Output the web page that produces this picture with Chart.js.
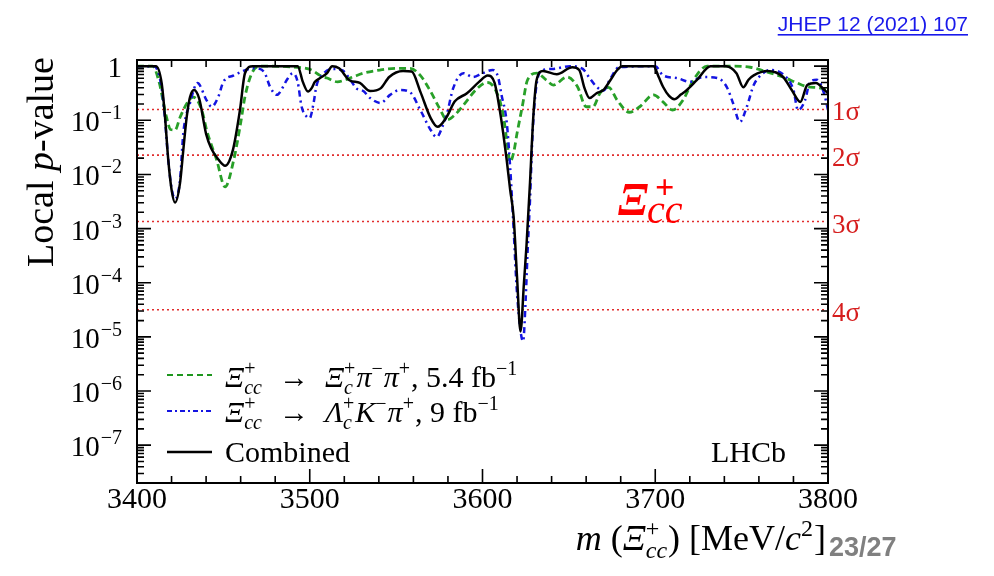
<!DOCTYPE html>
<html>
<head>
<meta charset="utf-8">
<script src="https://cdn.jsdelivr.net/npm/chart.js@4/dist/chart.umd.min.js"></script>
<style>
  html, body { margin: 0; padding: 0; background: #ffffff; }
  canvas { display: block; }
</style>
</head>
<body>
<canvas id="chart" width="994" height="576"></canvas>
<script>
// Local p-value scan versus Xi_cc+ mass
const massCombined = [3400, 3411, 3414.3, 3416.2, 3418.1, 3420, 3422, 3424.9, 3426.8, 3428.8,
  3430.7, 3433, 3436, 3440, 3443, 3447, 3451, 3455.5, 3459.6, 3462.5,
  3467, 3493, 3496, 3499, 3501, 3503, 3506, 3510, 3513, 3517,
  3523, 3529, 3535, 3541, 3546, 3554, 3559, 3564, 3570, 3574,
  3579, 3584, 3591, 3598, 3603, 3607, 3610, 3612, 3614, 3616,
  3618, 3620, 3622, 3624, 3625.5, 3627.5, 3629.4, 3631.3, 3635, 3643,
  3652, 3656, 3659, 3662, 3666, 3670, 3674, 3678, 3681, 3699,
  3702, 3704.5, 3708, 3711, 3715, 3718, 3724, 3732, 3741, 3747,
  3751, 3754, 3757, 3765, 3774, 3779, 3784, 3788, 3793, 3798, 3800];
const pCombined = [1, 1, 0.479, 0.117, 0.0186, 0.00525, 0.00302, 0.00692, 0.0282, 0.117,
  0.269, 0.363, 0.251, 0.0562, 0.0302, 0.0191, 0.0145, 0.0282, 0.155, 0.741,
  1, 1, 0.513, 0.339, 0.389, 0.513, 0.603, 0.741, 1, 0.912,
  0.550, 0.490, 0.347, 0.389, 0.631, 0.813, 0.794, 0.339, 0.110, 0.0759,
  0.112, 0.224, 0.316, 0.513, 0.676, 0.490, 0.155, 0.0575, 0.0186, 0.00525,
  0.00166, 1.26e-4, 1.26e-5, 1.0e-4, 5.0e-4, 0.00708, 0.115, 0.550, 0.813, 0.708,
  0.955, 0.851, 0.398, 0.257, 0.316, 0.363, 0.550, 0.851, 1, 1,
  0.631, 0.417, 0.282, 0.245, 0.302, 0.355, 0.550, 1, 1, 0.741,
  0.407, 0.562, 0.676, 0.813, 0.631, 0.363, 0.219, 0.447, 0.490, 0.363, 0.316];

const massPiPi = [3400, 3409, 3413, 3415, 3417, 3419.4, 3422, 3425, 3429, 3432.4,
  3435, 3438, 3440.3, 3446.1, 3451, 3456, 3460, 3462.5, 3466.4, 3471,
  3496, 3501, 3506, 3510, 3516, 3520, 3525, 3531, 3541, 3550,
  3558, 3564, 3570, 3575, 3579.5, 3584, 3589, 3597, 3602.6, 3608,
  3612, 3614, 3616, 3618, 3620, 3623, 3626, 3631.5, 3637, 3641,
  3649, 3655, 3660, 3664, 3668, 3673, 3678, 3685, 3691, 3699,
  3704.5, 3710, 3716, 3722, 3730, 3745, 3755, 3765, 3774, 3782,
  3788, 3795, 3800];
const pPiPi = [1, 1, 0.479, 0.234, 0.117, 0.0676, 0.0661, 0.115, 0.209, 0.269,
  0.234, 0.135, 0.0661, 0.0186, 0.00589, 0.0186, 0.0891, 0.272, 0.733, 1,
  0.933, 0.851, 0.676, 0.603, 0.513, 0.550, 0.631, 0.741, 0.851, 0.912,
  0.912, 0.676, 0.339, 0.170, 0.102, 0.126, 0.191, 0.389, 0.501, 0.339,
  0.126, 0.0437, 0.017, 0.0251, 0.0575, 0.178, 0.550, 0.741, 0.550, 0.447,
  0.631, 0.417, 0.178, 0.178, 0.316, 0.407, 0.234, 0.141, 0.178, 0.295,
  0.219, 0.155, 0.234, 0.550, 1, 1, 0.955, 0.776, 0.631, 0.490,
  0.417, 0.398, 0.355];

const massLcK = [3400, 3410, 3414, 3416, 3418, 3420, 3422, 3424.9, 3426.8, 3430.7,
  3435, 3440.3, 3443.2, 3447, 3450, 3456, 3460, 3467, 3471, 3474,
  3477, 3481, 3484.6, 3486.6, 3490.4, 3493, 3495.3, 3498.2, 3500, 3502,
  3504, 3507, 3513, 3519, 3523, 3527, 3531, 3535, 3541, 3546.5,
  3552, 3558, 3564, 3570, 3573.5, 3577, 3579.5, 3583, 3589, 3594.5,
  3600, 3606, 3609, 3611, 3614, 3616, 3618, 3620, 3623.5, 3625,
  3626, 3627.5, 3629, 3631.5, 3635, 3641, 3650.6, 3658, 3662, 3666,
  3670, 3674, 3679, 3700, 3704.5, 3712.6, 3720, 3727.6, 3736, 3741.5,
  3745, 3749, 3753, 3757, 3762.4, 3766, 3774, 3780, 3782.6, 3786.7,
  3789.6, 3793.6, 3797.7, 3800];
const pLcK = [1, 1, 0.447, 0.126, 0.0200, 0.00562, 0.00355, 0.00776, 0.0575, 0.209,
  0.490, 0.234, 0.178, 0.269, 0.513, 0.676, 0.776, 0.912, 0.891, 0.741,
  0.417, 0.295, 0.417, 0.550, 0.741, 0.513, 0.178, 0.117, 0.110, 0.191,
  0.447, 0.676, 0.891, 0.832, 0.589, 0.389, 0.347, 0.257, 0.209, 0.295,
  0.363, 0.331, 0.155, 0.0661, 0.049, 0.0794, 0.135, 0.389, 0.741, 0.631,
  0.741, 0.851, 0.631, 0.295, 0.0933, 0.0138, 0.001, 6.3e-5, 8.3e-6, 5.0e-5,
  3.16e-4, 0.00339, 0.0575, 0.501, 0.851, 0.891, 1, 0.891, 0.603, 0.417,
  0.355, 0.589, 0.955, 1, 0.676, 0.603, 0.513, 0.631, 0.603, 0.407,
  0.209, 0.0933, 0.178, 0.447, 0.741, 0.851, 0.708, 0.363, 0.155, 0.234,
  0.513, 0.562, 0.316, 0.155];

// One-sided p-values of the significance reference lines
const sigmaNames = ['1σ', '2σ', '3σ', '4σ'];
const sigmaP = [0.1587, 0.02275, 0.00135, 3.167e-5];

// Axis ticks
const massTicks = [3400, 3500, 3600, 3700, 3800];
const pTickValues = [1, 1e-1, 1e-2, 1e-3, 1e-4, 1e-5, 1e-6, 1e-7];
const pTickExponents = ['', '−1', '−2', '−3', '−4', '−5', '−6', '−7'];

const SERIF = "'Liberation Serif', 'DejaVu Serif', serif";
const SANS = "'Liberation Sans', Arial, sans-serif";
const fnt = (size, style) => ((style ? style + ' ' : '') + size + 'px ' + SERIF);

const toPoints = (xs, ys) => xs.map((x, i) => ({ x: x, y: ys[i] }));

// Rich text: plain runs plus stacked super/subscripts
function richText(ctx, x, y, segs, base, script, draw) {
  let cx = x;
  for (const s of segs) {
    if (s.gap) { cx += s.gap; continue; }
    if (s.sup !== undefined || s.sub !== undefined) {
      let w = 0;
      if (s.sup !== undefined) {
        ctx.font = fnt(script, s.supStyle || '');
        if (draw) ctx.fillText(s.sup, cx, y - (s.up || Math.round(base * 0.4)));
        w = Math.max(w, ctx.measureText(s.sup).width);
      }
      if (s.sub !== undefined) {
        ctx.font = fnt(script, 'italic');
        if (draw) ctx.fillText(s.sub, cx, y + (s.down || Math.round(base * 0.22)));
        w = Math.max(w, ctx.measureText(s.sub).width);
      }
      cx += w + 1;
    } else {
      ctx.font = fnt(s.size || base, s.style || '');
      if (draw) ctx.fillText(s.t, cx, y);
      cx += ctx.measureText(s.t).width;
    }
  }
  return cx - x;
}

const decorPlugin = {
  id: 'decor',
  afterDraw(chart) {
    const ctx = chart.ctx;
    const xs = chart.scales.x, ys = chart.scales.y;
    const a = chart.chartArea;
    ctx.save();
    ctx.fillStyle = '#000';
    ctx.strokeStyle = '#000';
    ctx.lineWidth = 2;
    ctx.textBaseline = 'alphabetic';

    // Frame
    ctx.strokeRect(a.left, a.top, a.right - a.left, a.bottom - a.top);

    // Mass ticks, bottom and top, pointing inwards
    ctx.lineWidth = 1.6;
    ctx.beginPath();
    for (let m = 3400; m <= 3800; m += 20) {
      const px = xs.getPixelForValue(m);
      const len = (m % 100 === 0) ? 14 : 7;
      ctx.moveTo(px, a.bottom); ctx.lineTo(px, a.bottom - len);
      ctx.moveTo(px, a.top); ctx.lineTo(px, a.top + len);
    }
    // Logarithmic ticks, left and right
    for (let e = -8; e <= 0; e++) {
      for (let k = 1; k <= 9; k++) {
        const v = k * Math.pow(10, e);
        if (v < ys.min || v > ys.max) continue;
        const py = ys.getPixelForValue(v);
        const len = (k === 1) ? 14 : 7;
        ctx.moveTo(a.left, py); ctx.lineTo(a.left + len, py);
        ctx.moveTo(a.right, py); ctx.lineTo(a.right - len, py);
      }
    }
    ctx.stroke();

    // Mass tick labels
    ctx.font = fnt(30);
    ctx.textAlign = 'center';
    massTicks.forEach(m => ctx.fillText(String(m), xs.getPixelForValue(m), 508));

    // p-value tick labels
    ctx.textAlign = 'left';
    const labelRight = a.left - 15;
    pTickValues.forEach((v, i) => {
      const py = ys.getPixelForValue(v);
      if (pTickExponents[i] === '') {
        ctx.font = fnt(29);
        const w = ctx.measureText('1').width;
        ctx.fillText('1', labelRight - w, py + 11);
      } else {
        ctx.font = fnt(20);
        const we = ctx.measureText(pTickExponents[i]).width;
        ctx.font = fnt(29);
        const wb = ctx.measureText('10').width;
        ctx.fillText('10', labelRight - we - wb - 1, py + 11);
        ctx.font = fnt(20);
        ctx.fillText(pTickExponents[i], labelRight - we, py - 1);
      }
    });

    // Vertical axis title
    ctx.save();
    ctx.translate(53, 162);
    ctx.rotate(-Math.PI / 2);
    const ySegs = [{ t: 'Local ' }, { t: 'p', style: 'italic' }, { t: '-value' }];
    const wy = richText(ctx, 0, 0, ySegs, 38, 26, false);
    richText(ctx, -wy / 2, 0, ySegs, 38, 26, true);
    ctx.restore();

    // Horizontal axis title
    const xSegs = [{ t: 'm', style: 'italic' }, { t: ' (' }, { t: 'Ξ', style: 'italic' },
      { sup: '+', sub: 'cc', up: 14, down: 8 }, { t: ') [MeV/' }, { t: 'c', style: 'italic' },
      { sup: '2', up: 14 }, { t: ']' }];
    const wx = richText(ctx, 0, 0, xSegs, 36, 24, false);
    richText(ctx, 826 - wx, 550, xSegs, 36, 24, true);

    // Significance labels
    ctx.fillStyle = 'rgb(214,30,30)';
    ctx.font = fnt(27);
    sigmaP.forEach((p, i) => ctx.fillText(sigmaNames[i], a.right + 4, ys.getPixelForValue(p) + 11));

    // Legend
    const legendRows = [
      { y: 387, lineY: 375, color: 'rgb(30,150,30)', dash: [6, 4],
        segs: [{ t: 'Ξ', style: 'italic' }, { sup: '+', sub: 'cc' }, { gap: 16 }, { t: '→' }, { gap: 16 },
          { t: 'Ξ', style: 'italic' }, { sup: '+', sub: 'c' }, { t: 'π', style: 'italic' }, { sup: '−' },
          { t: 'π', style: 'italic' }, { sup: '+' }, { t: ', 5.4 fb' }, { sup: '−1' }] },
      { y: 422, lineY: 411, color: 'rgb(20,20,225)', dash: [5, 3, 2, 3],
        segs: [{ t: 'Ξ', style: 'italic' }, { sup: '+', sub: 'cc' }, { gap: 16 }, { t: '→' }, { gap: 16 },
          { t: 'Λ', style: 'italic' }, { sup: '+', sub: 'c' }, { t: 'K', style: 'italic' }, { sup: '−' },
          { t: 'π', style: 'italic' }, { sup: '+' }, { t: ', 9 fb' }, { sup: '−1' }] },
      { y: 462, lineY: 452, color: '#000', dash: [],
        segs: [{ t: 'Combined' }] }
    ];
    legendRows.forEach(r => {
      ctx.strokeStyle = r.color;
      ctx.lineWidth = r.dash.length ? 2 : 2.5;
      ctx.setLineDash(r.dash);
      ctx.beginPath();
      ctx.moveTo(167, r.lineY); ctx.lineTo(212, r.lineY);
      ctx.stroke();
      ctx.setLineDash([]);
      ctx.fillStyle = '#000';
      richText(ctx, 225, r.y, r.segs, 30, 20, true);
    });

    // Experiment tag
    ctx.fillStyle = '#000';
    ctx.font = fnt(30);
    ctx.textAlign = 'right';
    ctx.fillText('LHCb', 786, 462);

    // Red particle label
    ctx.fillStyle = '#ff0000';
    ctx.textAlign = 'left';
    ctx.font = fnt(46, 'italic bold');
    ctx.fillText('Ξ', 618, 215);
    ctx.font = fnt(34, 'bold');
    ctx.fillText('+', 655, 198);
    ctx.font = fnt(40, 'italic');
    ctx.fillText('cc', 647, 223);

    // Reference link and page number
    ctx.font = '21px ' + SANS;
    ctx.fillStyle = 'rgb(25,25,235)';
    ctx.textAlign = 'right';
    ctx.fillText('JHEP 12 (2021) 107', 968, 31);
    const wl = ctx.measureText('JHEP 12 (2021) 107').width;
    ctx.fillRect(968 - wl, 34, wl, 1.6);

    ctx.font = 'bold 27px ' + SANS;
    ctx.fillStyle = 'rgb(128,128,128)';
    ctx.textAlign = 'left';
    ctx.fillText('23/27', 829, 556);

    ctx.restore();
  }
};

const sigmaDatasets = sigmaP.map(p => ({
  data: [{ x: 3400, y: p }, { x: 3800, y: p }],
  borderColor: 'rgb(225,45,45)',
  borderWidth: 1.6,
  borderDash: [2, 3],
  pointRadius: 0,
  order: 5
}));

new Chart(document.getElementById('chart'), {
  type: 'line',
  data: {
    datasets: [
      { label: 'Combined', data: toPoints(massCombined, pCombined),
        borderColor: '#000000', borderWidth: 2.5, cubicInterpolationMode: 'monotone', order: 0 },
      { label: 'Λc+K−π+', data: toPoints(massLcK, pLcK),
        borderColor: 'rgb(20,20,225)', borderWidth: 2.5, borderDash: [6, 4, 2, 4],
        cubicInterpolationMode: 'monotone', order: 1 },
      { label: 'Ξc+π−π+', data: toPoints(massPiPi, pPiPi),
        borderColor: 'rgb(40,160,40)', borderWidth: 2.8, borderDash: [7, 4],
        cubicInterpolationMode: 'monotone', order: 2 },
      ...sigmaDatasets
    ]
  },
  options: {
    responsive: false,
    animation: false,
    devicePixelRatio: 1,
    layout: { padding: { left: 137, right: 166, top: 60, bottom: 93 } },
    elements: { point: { radius: 0 }, line: { fill: false } },
    plugins: { legend: { display: false }, tooltip: { enabled: false } },
    scales: {
      x: { type: 'linear', min: 3400, max: 3800,
        ticks: { display: false }, grid: { display: false, drawTicks: false }, border: { display: false } },
      y: { type: 'logarithmic', min: 2e-8, max: 1.3,
        ticks: { display: false }, grid: { display: false, drawTicks: false }, border: { display: false } }
    }
  },
  plugins: [decorPlugin]
});
</script>
</body>
</html>
